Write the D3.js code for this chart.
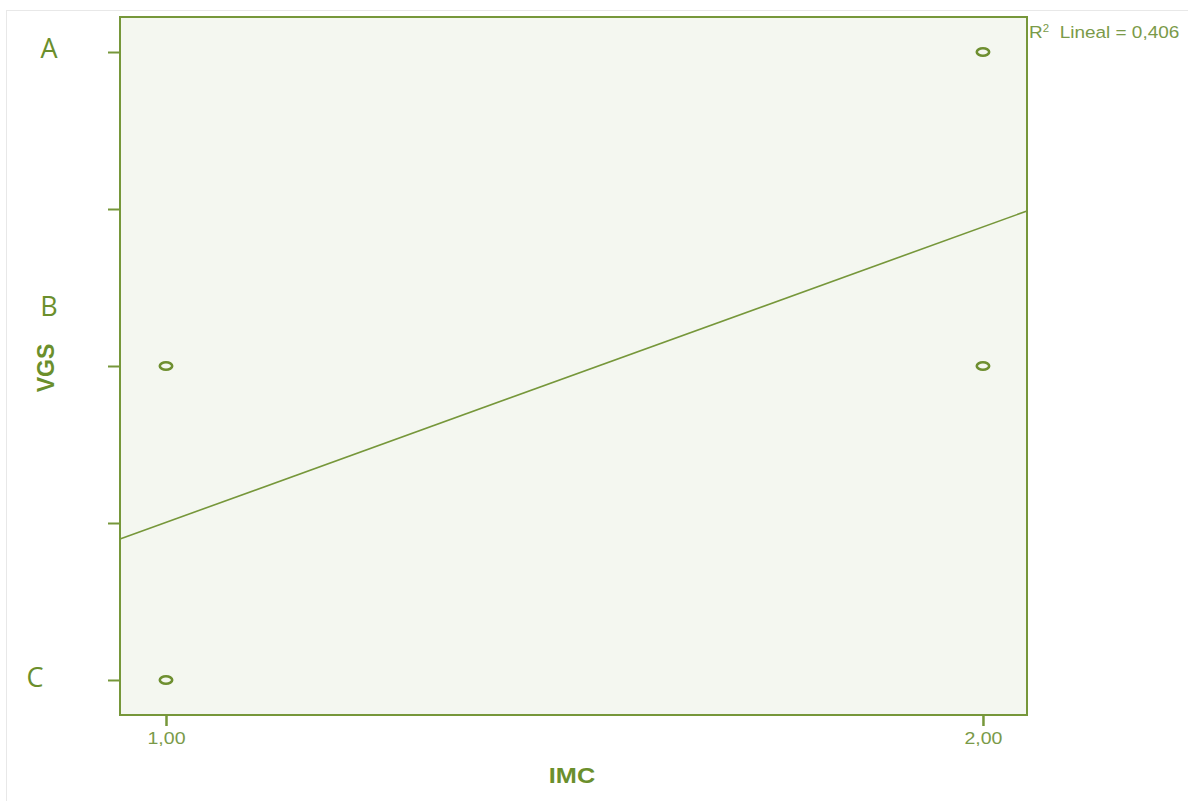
<!DOCTYPE html>
<html>
<head>
<meta charset="utf-8">
<script src="https://cdn.jsdelivr.net/npm/d3@7"></script>
<style>
  body { margin: 0; background: #fff; }
  svg { display: block; }
</style>
</head>
<body>
<svg width="1188" height="801"></svg>
<script>

// data
var points_x = [1, 1, 2, 2]
var points_y = [2, 1, 3, 2]        // C = 1, B = 2, A = 3
var y_ticks = [1, 1.5, 2, 2.5, 3]
var x_ticks = [1, 2]
var x_tick_labels = ["1,00", "2,00"]
var cat_names = ["A", "B", "C"]
var fit_intercept = 0.561
var fit_slope = 0.941
var r2_label = "0,406"

// where the pasted-on letters sit (layout, pixels)
var cat_label_x = [49, 49, 35]
var cat_label_y = [47, 305, 676]

var green = "#76973a"
var text_green = "#6b8f2c"
var tick_green = "#7a9a48"
var stretch = 1.15   // the original picture is a bit wider than tall

var svg = d3.select("svg")

// outer light frame
svg.append("rect")
  .attr("x", 6.5).attr("y", 10.5)
  .attr("width", 1190).attr("height", 800)
  .style("fill", "none")
  .style("stroke", "#e8e8e8")

var x = d3.scaleLinear().domain([0.9437, 2.0539]).range([120, 1027])
var y = d3.scaleLinear().domain([0.8885, 3.1115]).range([715, 17])

// plot area
svg.append("rect")
  .attr("x", x.range()[0]).attr("y", y.range()[1])
  .attr("width", x.range()[1] - x.range()[0])
  .attr("height", y.range()[0] - y.range()[1])
  .style("fill", "#f4f7f0")
  .style("stroke", green)
  .style("stroke-width", 2)

// y axis ticks (no labels)
var yAxis = svg.append("g")
  .attr("transform", "translate(120,0)")
  .call(d3.axisLeft(y).tickValues(y_ticks).tickSize(12).tickFormat(""))
yAxis.select(".domain").remove()
yAxis.selectAll("line").style("stroke", green).style("stroke-width", 2)

// x axis ticks
var xAxis = svg.append("g")
  .attr("transform", "translate(0,715)")
  .call(d3.axisBottom(x).tickValues(x_ticks).tickSize(11)
    .tickFormat(function(d, i){ return x_tick_labels[i]; }))
xAxis.select(".domain").remove()
xAxis.selectAll("line").style("stroke", green).style("stroke-width", 2.5)
xAxis.selectAll("text")
  .attr("y", 29)
  .attr("dy", null)
  .attr("transform", "scale(" + stretch + ",1)")
  .style("fill", tick_green)
  .style("font-family", "Liberation Sans, Arial, sans-serif")
  .style("font-size", "17px")

// regression line
var x0 = x.domain()[0], x1 = x.domain()[1]
svg.append("line")
  .attr("x1", x(x0)).attr("y1", y(fit_intercept + fit_slope * x0))
  .attr("x2", x(x1)).attr("y2", y(fit_intercept + fit_slope * x1))
  .style("stroke", green)
  .style("stroke-width", 1.6)

// points
svg.selectAll(".pt").data(points_x).enter().append("ellipse")
  .attr("class", "pt")
  .attr("cx", function(d){ return x(d); })
  .attr("cy", function(d, i){ return y(points_y[i]); })
  .attr("rx", 6.2)
  .attr("ry", 3.8)
  .style("fill", "none")
  .style("stroke", "#6e8f30")
  .style("stroke-width", 2.6)

// R2 label
var r2 = svg.append("text")
  .attr("transform", "translate(1029,38) scale(" + stretch + ",1)")
  .style("fill", tick_green)
  .style("font-family", "Liberation Sans, Arial, sans-serif")
  .style("font-size", "16.5px")
r2.append("tspan").text("R")
r2.append("tspan").attr("dy", -6).style("font-size", "10px").text("2")
r2.append("tspan").attr("dy", 6).text("\u00a0 Lineal = " + r2_label)

// axis titles
svg.append("text")
  .attr("transform", "translate(572,783) scale(" + stretch + ",1)")
  .attr("text-anchor", "middle")
  .style("fill", text_green)
  .style("font-family", "Liberation Sans, Arial, sans-serif")
  .style("font-weight", "bold")
  .style("font-size", "22px")
  .text("IMC")

svg.append("text")
  .attr("transform", "translate(54,368) rotate(-90)")
  .attr("text-anchor", "middle")
  .style("fill", text_green)
  .style("font-family", "Liberation Sans, Arial, sans-serif")
  .style("font-weight", "bold")
  .style("font-size", "23px")
  .text("VGS")

// category letters on the left
svg.selectAll(".cat").data(cat_names).enter().append("text")
  .attr("class", "cat")
  .attr("x", function(d, i){ return cat_label_x[i]; })
  .attr("y", function(d, i){ return cat_label_y[i]; })
  .attr("text-anchor", "middle")
  .attr("dominant-baseline", "central")
  .style("fill", text_green)
  .style("font-family", "Open Sans, sans-serif")
  .style("font-size", "27px")
  .text(function(d){ return d; })

</script>
</body>
</html>
